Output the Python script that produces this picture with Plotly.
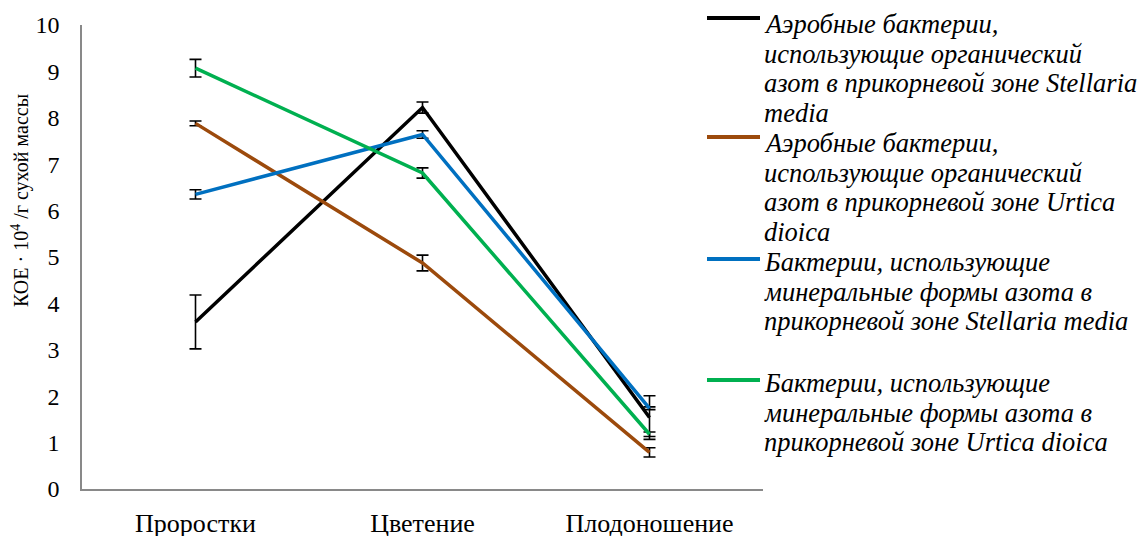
import plotly.graph_objects as go

categories = ["Проростки", "Цветение", "Плодоношение"]

names = [
    "Аэробные бактерии,<br>использующие органический<br>азот в прикорневой зоне Stellaria<br>media",
    "Аэробные бактерии,<br>использующие органический<br>азот в прикорневой зоне Urtica<br>dioica",
    "Бактерии, использующие<br>минеральные формы азота в<br>прикорневой зоне Stellaria media",
    "Бактерии, использующие<br>минеральные формы азота в<br>прикорневой зоне Urtica dioica",
]
org_stellaria = [3.6, 8.22, 1.54]
org_stellaria_err = [0.58, 0.12, 0.47]
org_urtica = [7.88, 4.87, 0.79]
org_urtica_err = [0.05, 0.17, 0.10]
min_stellaria = [6.35, 7.64, 1.74]
min_stellaria_err = [0.10, 0.08, 0.03]
min_urtica = [9.07, 6.81, 1.18]
min_urtica_err = [0.19, 0.11, 0.05]

colors = ["#000000", "#9C4A0C", "#0070C0", "#00B050"]
series = [org_stellaria, org_urtica, min_stellaria, min_urtica]
errors = [org_stellaria_err, org_urtica_err, min_stellaria_err, min_urtica_err]

FONT = "Liberation Serif"

# layout geometry (page pixels; the page body has an 8 px margin)
W, H = 1146, 536
ML, MR, MT, MB = 74, 391, 17, 55
PW, PH = W - ML - MR, H - MT - MB


def px(page_x):
    return (page_x - 8 - ML) / PW


def py(page_y):
    return (H - MB - (page_y - 8)) / PH


# custom legend placement (page pixels)
leg_text_x = 762
leg_line_x = (707, 760)
leg_first_baseline = [33, 152, 271, 392]
leg_sample_y = [18, 137, 259, 380]
leg_line_step = 29.5
leg_font = 26.5

fig = go.Figure()
for name, vals, errs, col in zip(names, series, errors, colors):
    fig.add_trace(go.Scatter(
        x=categories, y=vals, name=name.replace("<br>", " "),
        mode="lines", showlegend=False,
        line=dict(color=col, width=3.5),
        error_y=dict(type="data", array=errs, visible=True,
                     color="#000000", thickness=1.6, width=6),
    ))

annotations = [dict(
    text="КОЕ · 10<sup>4</sup> /г сухой массы",
    xref="paper", yref="paper", x=px(20), y=py(201),
    xanchor="center", yanchor="middle", textangle=-90,
    showarrow=False, font=dict(family=FONT, size=20, color="#000000"),
)]
shapes = []
for name, col, b0, sy in zip(names, colors, leg_first_baseline, leg_sample_y):
    shapes.append(dict(
        type="line", xref="paper", yref="paper",
        x0=px(leg_line_x[0]), x1=px(leg_line_x[1]), y0=py(sy), y1=py(sy),
        line=dict(color=col, width=4),
    ))
    for k, line in enumerate(name.split("<br>")):
        base = b0 + k * leg_line_step
        annotations.append(dict(
            text="<i>" + line + "</i>",
            xref="paper", yref="paper", x=px(leg_text_x), y=py(base - 0.3375 * leg_font),
            xanchor="left", yanchor="middle", showarrow=False,
            font=dict(family=FONT, size=leg_font, color="#000000"),
        ))

fig.update_layout(
    width=W, height=H,
    margin=dict(l=ML, r=MR, t=MT, b=MB),
    paper_bgcolor="white", plot_bgcolor="white",
    font=dict(family=FONT, color="#000000"),
    showlegend=False,
    annotations=annotations,
    shapes=shapes,
)
fig.update_xaxes(
    type="category", range=[-0.5, 2.5], automargin=False,
    showline=True, linecolor="#898989", linewidth=1.5,
    showgrid=False, ticks="", zeroline=False,
    tickfont=dict(family=FONT, size=26, color="#000000"),
    ticklabelstandoff=10,
)
fig.update_yaxes(
    range=[0, 10], dtick=1, automargin=False,
    showline=True, linecolor="#898989", linewidth=1.5,
    showgrid=False, ticks="", zeroline=False,
    tickfont=dict(family=FONT, size=24, color="#000000"),
    ticklabelstandoff=16,
)

fig.write_html("out.html")
